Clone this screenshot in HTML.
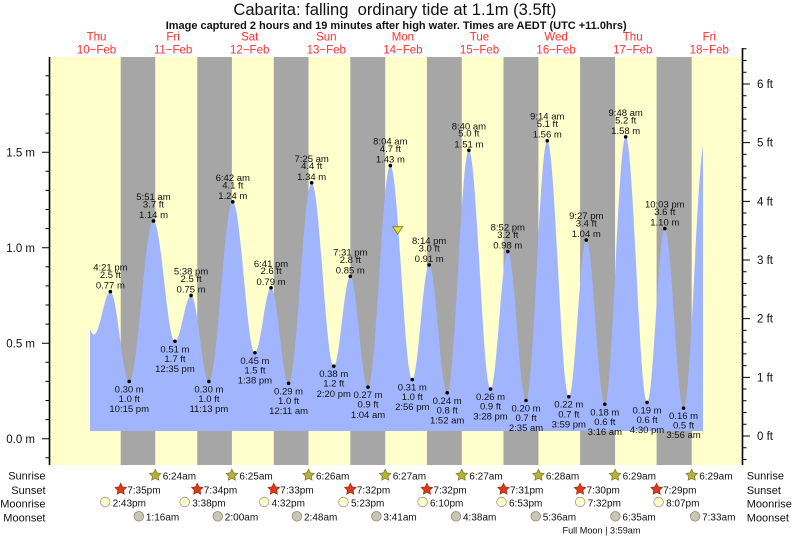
<!DOCTYPE html>
<html><head><meta charset="utf-8"><style>
html,body{margin:0;padding:0;background:#fff;}
svg{display:block;}
text{font-family:"Liberation Sans",Arial,sans-serif;}
</style></head><body>
<svg width="793" height="539" viewBox="0 0 793 539" xmlns="http://www.w3.org/2000/svg">
<rect x="0" y="0" width="793" height="539" fill="#fff"/>
<!-- plot background -->
<rect x="49.5" y="57" width="693" height="408" fill="#ffffcc"/>
<g fill="#a6a6a6">
<rect x="120.7" y="57" width="34.53" height="408"/>
<rect x="197.25" y="57" width="34.63" height="408"/>
<rect x="273.8" y="57" width="34.73" height="408"/>
<rect x="350.34" y="57" width="34.84" height="408"/>
<rect x="426.94" y="57" width="34.84" height="408"/>
<rect x="503.5" y="57" width="34.94" height="408"/>
<rect x="580.04" y="57" width="35.05" height="408"/>
<rect x="656.59" y="57" width="35.1" height="408"/>
</g>
<clipPath id="cl"><rect x="90" y="40" width="613" height="430"/></clipPath>
<path clip-path="url(#cl)" fill="#a1b5ff" d="M80,431 L80,304.99
C85.09,304.99 88.91,334.6 94,334.6
C99.95,334.6 104.43,291.63 110.38,291.63
C117.22,291.63 122.37,381.4 129.21,381.4
C138.03,381.4 144.65,220.96 153.47,220.96
C161.28,220.96 167.15,341.29 174.96,341.29
C180.82,341.29 185.22,295.45 191.08,295.45
C197.56,295.45 202.42,381.4 208.90,381.4
C217.58,381.4 224.10,201.86 232.78,201.86
C240.82,201.86 246.87,352.75 254.91,352.75
C260.77,352.75 265.17,287.81 271.03,287.81
C277.41,287.81 282.20,383.31 288.58,383.31
C296.97,383.31 303.28,182.76 311.67,182.76
C319.69,182.76 325.73,366.12 333.75,366.12
C339.76,366.12 344.28,276.35 350.29,276.35
C356.73,276.35 361.57,387.13 368.01,387.13
C376.13,387.13 382.23,165.57 390.35,165.57
C398.31,165.57 404.30,379.49 412.26,379.49
C418.41,379.49 423.03,264.89 429.18,264.89
C435.71,264.89 440.63,392.86 447.16,392.86
C455.05,392.86 460.97,150.29 468.86,150.29
C476.75,150.29 482.68,389.04 490.57,389.04
C496.83,389.04 501.54,251.52 507.80,251.52
C514.43,251.52 519.41,400.5 526.04,400.5
C533.75,400.5 539.56,140.74 547.27,140.74
C555.10,140.74 560.98,396.68 568.81,396.68
C575.15,396.68 579.92,240.06 586.26,240.06
C593.01,240.06 598.08,404.32 604.83,404.32
C612.41,404.32 618.10,136.92 625.68,136.92
C633.45,136.92 639.29,402.41 647.06,402.41
C653.50,402.41 658.33,228.6 664.77,228.6
C671.59,228.6 676.73,408.14 683.55,408.14
C691.34,408.14 697.21,140 705,140
L705,431 Z"/>
<!-- extreme dots -->
<g fill="#000">
<circle cx="110.38" cy="291.63" r="1.8"/><circle cx="129.21" cy="381.4" r="1.8"/>
<circle cx="153.47" cy="220.96" r="1.8"/><circle cx="174.96" cy="341.29" r="1.8"/>
<circle cx="191.08" cy="295.45" r="1.8"/><circle cx="208.9" cy="381.4" r="1.8"/>
<circle cx="232.78" cy="201.86" r="1.8"/><circle cx="254.91" cy="352.75" r="1.8"/>
<circle cx="271.03" cy="287.81" r="1.8"/><circle cx="288.58" cy="383.31" r="1.8"/>
<circle cx="311.67" cy="182.76" r="1.8"/><circle cx="333.75" cy="366.12" r="1.8"/>
<circle cx="350.29" cy="276.35" r="1.8"/><circle cx="368.01" cy="387.13" r="1.8"/>
<circle cx="390.35" cy="165.57" r="1.8"/><circle cx="412.26" cy="379.49" r="1.8"/>
<circle cx="429.18" cy="264.89" r="1.8"/><circle cx="447.16" cy="392.86" r="1.8"/>
<circle cx="468.86" cy="150.29" r="1.8"/><circle cx="490.57" cy="389.04" r="1.8"/>
<circle cx="507.8" cy="251.52" r="1.8"/><circle cx="526.04" cy="400.5" r="1.8"/>
<circle cx="547.27" cy="140.74" r="1.8"/><circle cx="568.81" cy="396.68" r="1.8"/>
<circle cx="586.26" cy="240.06" r="1.8"/><circle cx="604.83" cy="404.32" r="1.8"/>
<circle cx="625.68" cy="136.92" r="1.8"/><circle cx="647.06" cy="402.41" r="1.8"/>
<circle cx="664.77" cy="228.6" r="1.8"/><circle cx="683.55" cy="408.14" r="1.8"/>
</g>
<!-- current position marker -->
<polygon points="392.7,226.7 402.7,226.7 397.7,234" fill="#e8e22a" stroke="#7d7a18" stroke-width="0.8"/>
<!-- tide labels -->
<g font-size="9.5" fill="#111" text-anchor="middle">
<text x="110.38" y="270.6">4:21 pm</text><text x="110.38" y="278">2.5 ft</text><text x="110.38" y="288.6">0.77 m</text>
<text x="153.47" y="200">5:51 am</text><text x="153.47" y="207.4">3.7 ft</text><text x="153.47" y="218">1.14 m</text>
<text x="191.08" y="274.5">5:38 pm</text><text x="191.08" y="281.9">2.5 ft</text><text x="191.08" y="292.5">0.75 m</text>
<text x="232.78" y="180.9">6:42 am</text><text x="232.78" y="188.3">4.1 ft</text><text x="232.78" y="198.9">1.24 m</text>
<text x="271.03" y="266.8">6:41 pm</text><text x="271.03" y="274.2">2.6 ft</text><text x="271.03" y="284.8">0.79 m</text>
<text x="311.67" y="161.8">7:25 am</text><text x="311.67" y="169.2">4.4 ft</text><text x="311.67" y="179.8">1.34 m</text>
<text x="350.29" y="255.4">7:31 pm</text><text x="350.29" y="262.8">2.8 ft</text><text x="350.29" y="273.4">0.85 m</text>
<text x="390.35" y="144.6">8:04 am</text><text x="390.35" y="152">4.7 ft</text><text x="390.35" y="162.6">1.43 m</text>
<text x="429.18" y="243.9">8:14 pm</text><text x="429.18" y="251.3">3.0 ft</text><text x="429.18" y="261.9">0.91 m</text>
<text x="468.86" y="129.3">8:40 am</text><text x="468.86" y="136.7">5.0 ft</text><text x="468.86" y="147.3">1.51 m</text>
<text x="507.8" y="230.5">8:52 pm</text><text x="507.8" y="237.9">3.2 ft</text><text x="507.8" y="248.5">0.98 m</text>
<text x="547.27" y="119.7">9:14 am</text><text x="547.27" y="127.1">5.1 ft</text><text x="547.27" y="137.7">1.56 m</text>
<text x="586.26" y="219.1">9:27 pm</text><text x="586.26" y="226.5">3.4 ft</text><text x="586.26" y="237.1">1.04 m</text>
<text x="625.68" y="115.9">9:48 am</text><text x="625.68" y="123.3">5.2 ft</text><text x="625.68" y="133.9">1.58 m</text>
<text x="664.77" y="207.6">10:03 pm</text><text x="664.77" y="215">3.6 ft</text><text x="664.77" y="225.6">1.10 m</text>

<text x="129.21" y="392.4">0.30 m</text><text x="129.21" y="402">1.0 ft</text><text x="129.21" y="412.1">10:15 pm</text>
<text x="174.96" y="352.3">0.51 m</text><text x="174.96" y="361.9">1.7 ft</text><text x="174.96" y="372">12:35 pm</text>
<text x="208.9" y="392.4">0.30 m</text><text x="208.9" y="402">1.0 ft</text><text x="208.9" y="412.1">11:13 pm</text>
<text x="254.91" y="363.8">0.45 m</text><text x="254.91" y="373.4">1.5 ft</text><text x="254.91" y="383.5">1:38 pm</text>
<text x="288.58" y="394.3">0.29 m</text><text x="288.58" y="403.9">1.0 ft</text><text x="288.58" y="414">12:11 am</text>
<text x="333.75" y="377.1">0.38 m</text><text x="333.75" y="386.7">1.2 ft</text><text x="333.75" y="396.8">2:20 pm</text>
<text x="368.01" y="398.1">0.27 m</text><text x="368.01" y="407.7">0.9 ft</text><text x="368.01" y="417.8">1:04 am</text>
<text x="412.26" y="390.5">0.31 m</text><text x="412.26" y="400.1">1.0 ft</text><text x="412.26" y="410.2">2:56 pm</text>
<text x="447.16" y="403.9">0.24 m</text><text x="447.16" y="413.5">0.8 ft</text><text x="447.16" y="423.6">1:52 am</text>
<text x="490.57" y="400">0.26 m</text><text x="490.57" y="409.6">0.9 ft</text><text x="490.57" y="419.7">3:28 pm</text>
<text x="526.04" y="411.5">0.20 m</text><text x="526.04" y="421.1">0.7 ft</text><text x="526.04" y="431.2">2:35 am</text>
<text x="568.81" y="407.7">0.22 m</text><text x="568.81" y="417.3">0.7 ft</text><text x="568.81" y="427.4">3:59 pm</text>
<text x="604.83" y="415.3">0.18 m</text><text x="604.83" y="424.9">0.6 ft</text><text x="604.83" y="435">3:16 am</text>
<text x="647.06" y="413.4">0.19 m</text><text x="647.06" y="423">0.6 ft</text><text x="647.06" y="433.1">4:30 pm</text>
<text x="683.55" y="419.1">0.16 m</text><text x="683.55" y="428.7">0.5 ft</text><text x="683.55" y="438">3:56 am</text>
</g>
<!-- axes -->
<path d="M49.5,57 V465 M742.5,48 V465" stroke="#000" stroke-width="1.6" fill="none"/>
<path stroke="#000" stroke-width="1" fill="none" d="
M42,438.7H49.5 M42,343.2H49.5 M42,247.7H49.5 M42,152.2H49.5
M45.5,457.8H49.5 M45.5,419.6H49.5 M45.5,400.5H49.5 M45.5,381.4H49.5 M45.5,362.3H49.5
M45.5,324.1H49.5 M45.5,305H49.5 M45.5,285.9H49.5 M45.5,266.8H49.5
M45.5,228.6H49.5 M45.5,209.5H49.5 M45.5,190.4H49.5 M45.5,171.3H49.5
M45.5,133.1H49.5 M45.5,114H49.5 M45.5,94.9H49.5 M45.5,75.8H49.5
M742.5,436H750 M742.5,377.33H750 M742.5,318.66H750 M742.5,260H750 M742.5,201.32H750 M742.5,142.65H750 M742.5,84H750
M742.5,459.47H746.5 M742.5,447.73H746.5 M742.5,424.27H746.5 M742.5,412.53H746.5 M742.5,400.8H746.5 M742.5,389.06H746.5
M742.5,365.6H746.5 M742.5,353.86H746.5 M742.5,342.13H746.5 M742.5,330.4H746.5
M742.5,306.93H746.5 M742.5,295.2H746.5 M742.5,283.46H746.5 M742.5,271.72H746.5
M742.5,248.26H746.5 M742.5,236.52H746.5 M742.5,224.79H746.5 M742.5,213.05H746.5
M742.5,189.59H746.5 M742.5,177.85H746.5 M742.5,166.12H746.5 M742.5,154.38H746.5
M742.5,130.92H746.5 M742.5,119.18H746.5 M742.5,107.45H746.5 M742.5,95.71H746.5
M742.5,72.25H746.5 M742.5,60.51H746.5 M742.5,48.78H746.5"/>
<g font-size="11.5" fill="#111" text-anchor="end">
<text x="35" y="156.3">1.5 m</text><text x="35" y="251.8">1.0 m</text><text x="35" y="347.3">0.5 m</text><text x="35" y="442.8">0.0 m</text>
</g>
<g font-size="11.5" fill="#111">
<text x="757" y="88">6 ft</text><text x="757" y="146.7">5 ft</text><text x="757" y="205.3">4 ft</text><text x="757" y="264">3 ft</text><text x="757" y="322.7">2 ft</text><text x="757" y="381.3">1 ft</text><text x="757" y="440">0 ft</text>
</g>
<!-- titles -->
<text x="394.9" y="15" font-size="16.5" fill="#111" text-anchor="middle" textLength="323" lengthAdjust="spacingAndGlyphs">Cabarita: falling&#160; ordinary tide at 1.1m (3.5ft)</text>
<text x="396.2" y="29" font-size="11" font-weight="bold" fill="#111" text-anchor="middle" textLength="461" lengthAdjust="spacingAndGlyphs">Image captured 2 hours and 19 minutes after high water. Times are AEDT (UTC +11.0hrs)</text>
<g font-size="11.5" fill="#ff3030" text-anchor="middle">
<text x="96.5" y="40.5">Thu</text><text x="96.5" y="53.3">10−Feb</text>
<text x="173.1" y="40.5">Fri</text><text x="173.1" y="53.3">11−Feb</text>
<text x="249.7" y="40.5">Sat</text><text x="249.7" y="53.3">12−Feb</text>
<text x="326.3" y="40.5">Sun</text><text x="326.3" y="53.3">13−Feb</text>
<text x="402.9" y="40.5">Mon</text><text x="402.9" y="53.3">14−Feb</text>
<text x="479.5" y="40.5">Tue</text><text x="479.5" y="53.3">15−Feb</text>
<text x="556.1" y="40.5">Wed</text><text x="556.1" y="53.3">16−Feb</text>
<text x="632.7" y="40.5">Thu</text><text x="632.7" y="53.3">17−Feb</text>
<text x="709.3" y="40.5">Fri</text><text x="709.3" y="53.3">18−Feb</text>
</g>
<!-- bottom rows labels -->
<g font-size="11" fill="#111" text-anchor="end">
<text x="45.5" y="479.7">Sunrise</text><text x="45.5" y="494">Sunset</text><text x="45.5" y="507.3">Moonrise</text><text x="45.5" y="521.3">Moonset</text>
</g>
<g font-size="11" fill="#111">
<text x="746.7" y="479.7">Sunrise</text><text x="746.7" y="494">Sunset</text><text x="746.7" y="507.3">Moonrise</text><text x="746.7" y="521.3">Moonset</text>
</g>
<!-- sunrise stars -->
<g fill="#b5b13a" stroke="#7a7720" stroke-width="0.7">
<polygon transform="translate(155.23,475.3)" points="0,-6 1.76,-2.43 5.71,-1.85 2.85,0.93 3.53,4.85 0,3 -3.53,4.85 -2.85,0.93 -5.71,-1.85 -1.76,-2.43"/>
<polygon transform="translate(231.88,475.3)" points="0,-6 1.76,-2.43 5.71,-1.85 2.85,0.93 3.53,4.85 0,3 -3.53,4.85 -2.85,0.93 -5.71,-1.85 -1.76,-2.43"/>
<polygon transform="translate(308.53,475.3)" points="0,-6 1.76,-2.43 5.71,-1.85 2.85,0.93 3.53,4.85 0,3 -3.53,4.85 -2.85,0.93 -5.71,-1.85 -1.76,-2.43"/>
<polygon transform="translate(385.18,475.3)" points="0,-6 1.76,-2.43 5.71,-1.85 2.85,0.93 3.53,4.85 0,3 -3.53,4.85 -2.85,0.93 -5.71,-1.85 -1.76,-2.43"/>
<polygon transform="translate(461.78,475.3)" points="0,-6 1.76,-2.43 5.71,-1.85 2.85,0.93 3.53,4.85 0,3 -3.53,4.85 -2.85,0.93 -5.71,-1.85 -1.76,-2.43"/>
<polygon transform="translate(538.44,475.3)" points="0,-6 1.76,-2.43 5.71,-1.85 2.85,0.93 3.53,4.85 0,3 -3.53,4.85 -2.85,0.93 -5.71,-1.85 -1.76,-2.43"/>
<polygon transform="translate(615.09,475.3)" points="0,-6 1.76,-2.43 5.71,-1.85 2.85,0.93 3.53,4.85 0,3 -3.53,4.85 -2.85,0.93 -5.71,-1.85 -1.76,-2.43"/>
<polygon transform="translate(691.69,475.3)" points="0,-6 1.76,-2.43 5.71,-1.85 2.85,0.93 3.53,4.85 0,3 -3.53,4.85 -2.85,0.93 -5.71,-1.85 -1.76,-2.43"/>
</g>
<!-- sunset stars -->
<g fill="#dd3a1a" stroke="#9a2a10" stroke-width="0.7">
<polygon transform="translate(120.7,489.3)" points="0,-6 1.76,-2.43 5.71,-1.85 2.85,0.93 3.53,4.85 0,3 -3.53,4.85 -2.85,0.93 -5.71,-1.85 -1.76,-2.43"/>
<polygon transform="translate(197.25,489.3)" points="0,-6 1.76,-2.43 5.71,-1.85 2.85,0.93 3.53,4.85 0,3 -3.53,4.85 -2.85,0.93 -5.71,-1.85 -1.76,-2.43"/>
<polygon transform="translate(273.8,489.3)" points="0,-6 1.76,-2.43 5.71,-1.85 2.85,0.93 3.53,4.85 0,3 -3.53,4.85 -2.85,0.93 -5.71,-1.85 -1.76,-2.43"/>
<polygon transform="translate(350.34,489.3)" points="0,-6 1.76,-2.43 5.71,-1.85 2.85,0.93 3.53,4.85 0,3 -3.53,4.85 -2.85,0.93 -5.71,-1.85 -1.76,-2.43"/>
<polygon transform="translate(426.94,489.3)" points="0,-6 1.76,-2.43 5.71,-1.85 2.85,0.93 3.53,4.85 0,3 -3.53,4.85 -2.85,0.93 -5.71,-1.85 -1.76,-2.43"/>
<polygon transform="translate(503.5,489.3)" points="0,-6 1.76,-2.43 5.71,-1.85 2.85,0.93 3.53,4.85 0,3 -3.53,4.85 -2.85,0.93 -5.71,-1.85 -1.76,-2.43"/>
<polygon transform="translate(580.04,489.3)" points="0,-6 1.76,-2.43 5.71,-1.85 2.85,0.93 3.53,4.85 0,3 -3.53,4.85 -2.85,0.93 -5.71,-1.85 -1.76,-2.43"/>
<polygon transform="translate(656.59,489.3)" points="0,-6 1.76,-2.43 5.71,-1.85 2.85,0.93 3.53,4.85 0,3 -3.53,4.85 -2.85,0.93 -5.71,-1.85 -1.76,-2.43"/>
</g>
<!-- moonrise circles -->
<g fill="#ffffcc" stroke="#9a9a8a" stroke-width="0.8">
<circle cx="105.17" cy="502" r="4.8"/><circle cx="184.7" cy="502" r="4.8"/><circle cx="264.17" cy="502" r="4.8"/><circle cx="343.48" cy="502" r="4.8"/>
<circle cx="422.58" cy="502" r="4.8"/><circle cx="501.47" cy="502" r="4.8"/><circle cx="580.15" cy="502" r="4.8"/><circle cx="658.61" cy="502" r="4.8"/>
</g>
<!-- moonset circles -->
<g fill="#c9c7b3" stroke="#8a8a80" stroke-width="0.8">
<circle cx="138.84" cy="516.3" r="4.8"/><circle cx="217.78" cy="516.3" r="4.8"/><circle cx="296.93" cy="516.3" r="4.8"/><circle cx="376.36" cy="516.3" r="4.8"/>
<circle cx="455.99" cy="516.3" r="4.8"/><circle cx="535.67" cy="516.3" r="4.8"/><circle cx="615.41" cy="516.3" r="4.8"/><circle cx="695.09" cy="516.3" r="4.8"/>
</g>
<g font-size="10" fill="#111">
<text x="162.7" y="479.6">6:24am</text><text x="239.4" y="479.6">6:25am</text><text x="316" y="479.6">6:26am</text><text x="392.7" y="479.6">6:27am</text>
<text x="469.3" y="479.6">6:27am</text><text x="545.9" y="479.6">6:28am</text><text x="622.6" y="479.6">6:29am</text><text x="699.2" y="479.6">6:29am</text>

<text x="127.2" y="493.4">7:35pm</text><text x="203.8" y="493.4">7:34pm</text><text x="280.3" y="493.4">7:33pm</text><text x="356.8" y="493.4">7:32pm</text>
<text x="433.4" y="493.4">7:32pm</text><text x="510" y="493.4">7:31pm</text><text x="586.5" y="493.4">7:30pm</text><text x="663.1" y="493.4">7:29pm</text>

<text x="112.6" y="506.6">2:43pm</text><text x="192.2" y="506.6">3:38pm</text><text x="271.6" y="506.6">4:32pm</text><text x="351" y="506.6">5:23pm</text>
<text x="430" y="506.6">6:10pm</text><text x="509" y="506.6">6:53pm</text><text x="587.6" y="506.6">7:32pm</text><text x="666.1" y="506.6">8:07pm</text>

<text x="145.9" y="520.6">1:16am</text><text x="224.8" y="520.6">2:00am</text><text x="304" y="520.6">2:48am</text><text x="383.4" y="520.6">3:41am</text>
<text x="463" y="520.6">4:38am</text><text x="542.7" y="520.6">5:36am</text><text x="622.4" y="520.6">6:35am</text><text x="702.1" y="520.6">7:33am</text>
</g>
<text x="601.5" y="533.5" font-size="9.3" fill="#111" text-anchor="middle" textLength="78" lengthAdjust="spacingAndGlyphs">Full Moon | 3:59am</text>
</svg>
</body></html>
